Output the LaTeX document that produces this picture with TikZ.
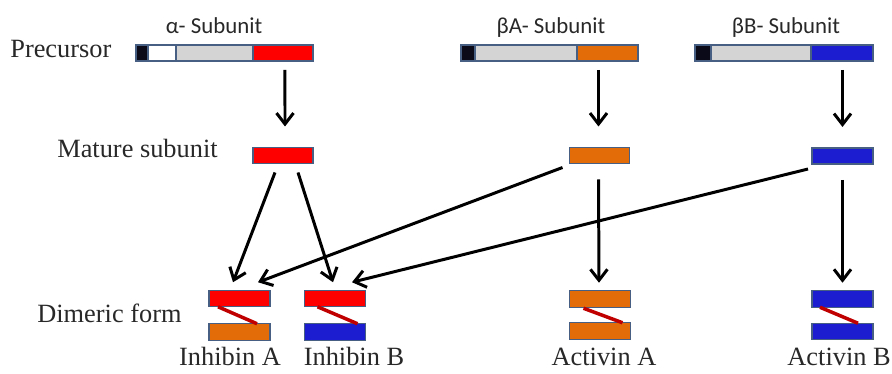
\documentclass[tikz,border=0pt]{standalone}
\usepackage{fontspec}
\setmainfont{Liberation Serif}
\newfontfamily\calib{Carlito}
\usetikzlibrary{calc,arrows.meta,positioning}
\definecolor{subred}{RGB}{255,0,0}
\definecolor{suborange}{RGB}{227,108,9}
\definecolor{subblue}{RGB}{28,28,208}
\definecolor{subgray}{RGB}{212,212,212}
\definecolor{subdark}{RGB}{10,10,25}
\definecolor{barline}{RGB}{70,95,130}
\definecolor{linkred}{RGB}{192,0,0}
\definecolor{txt}{RGB}{40,40,40}

\begin{document}
\begin{tikzpicture}[x=0.02cm, y=-0.02cm,
  seg/.style={draw=barline, line width=0.8pt, inner sep=0pt, outer sep=0pt, minimum height=0.32cm},
  bar/.style={draw=barline, line width=0.8pt, inner sep=0pt, outer sep=0pt, minimum width=1.2cm, minimum height=0.32cm},
  dimer/.style={draw=barline, line width=0.8pt, inner sep=0pt, outer sep=0pt, minimum width=1.22cm, minimum height=0.33cm},
  arr/.style={line width=1.7pt, -{Straight Barb[length=0.22cm, width=0.34cm]}},
  link/.style={linkred, line width=2pt},
  lab/.style={font=\fontsize{15}{18}\selectfont, text=txt, inner sep=0pt, anchor=base},
  sublab/.style={font=\calib\fontsize{13}{16}\selectfont, text=txt, inner sep=0pt, anchor=base}]
\useasboundingbox (0,0) rectangle (892,374);
% precursors
\node[seg, fill=subdark, minimum width=0.24cm, anchor=west] (pa1) at (136,53) {};
\node[seg, fill=white, minimum width=0.56cm, right=0pt of pa1] (pa2) {};
\node[seg, fill=subgray, minimum width=1.54cm, right=0pt of pa2] (pa3) {};
\node[seg, fill=subred, minimum width=1.2cm, right=0pt of pa3] (pa4) {};
\node[seg, fill=subdark, minimum width=0.28cm, anchor=west] (pb1) at (461,53) {};
\node[seg, fill=subgray, minimum width=2.04cm, right=0pt of pb1] (pb2) {};
\node[seg, fill=suborange, minimum width=1.22cm, right=0pt of pb2] (pb3) {};
\node[seg, fill=subdark, minimum width=0.32cm, anchor=west] (pc1) at (695,53) {};
\node[seg, fill=subgray, minimum width=2.0cm, right=0pt of pc1] (pc2) {};
\node[seg, fill=subblue, minimum width=1.24cm, right=0pt of pc2] (pc3) {};
\node[sublab] (ta) at (214,34) {α- Subunit};
\node[sublab] (tba) at (551,34) {βA- Subunit};
\node[sublab] (tbb) at (786,34) {βB- Subunit};
% mature subunits
\node[bar, fill=subred] (matA) at (283,155.5) {};
\node[bar, fill=suborange] (matBA) at (599.5,155.5) {};
\node[bar, fill=subblue, minimum width=1.22cm] (matBB) at (842.5,156) {};
% dimers
\node[dimer, fill=subred] (inhAt) at (239.5,298.5) {};
\node[dimer, fill=suborange] (inhAb) at (239.5,332) {};
\node[dimer, fill=subred] (inhBt) at (335,298.5) {};
\node[dimer, fill=subblue] (inhBb) at (335,332) {};
\node[dimer, fill=suborange] (actAt) at (600,299) {};
\node[dimer, fill=suborange] (actAb) at (600,331) {};
\node[dimer, fill=subblue] (actBt) at (842.5,299) {};
\node[dimer, fill=subblue] (actBb) at (842.5,331.5) {};
\draw[link] ($(inhAt.south west)+(9,0)$) -- ($(inhAb.north east)+(-13,0)$);
\draw[link] ($(inhBt.south west)+(13,0)$) -- ($(inhBb.north east)+(-8,0)$);
\draw[link] ($(actAt.south west)+(14,1)$) -- ($(actAb.north east)+(-8,0)$);
\draw[link] ($(actBt.south west)+(8,0)$) -- ($(actBb.north east)+(-15,0)$);
% arrows
\draw[arr] ($(pa4.south)+(2,9)$) -- ($(matA.north)+(2,-21)$);
\draw[arr] ($(pb3.south -| matBA.north)+(-1,9)$) -- ($(matBA.north)+(-1,-21)$);
\draw[arr] ($(pc3.south -| matBB.north)+(0,9)$) -- ($(matBB.north)+(0,-21)$);
\draw[arr] ($(matA.south)+(-8,9)$) -- ($(inhAt.north)+(-6.5,-8)$);
\draw[arr] ($(matA.south)+(15,9)$) -- ($(inhBt.north)+(-2,-8)$);
\draw[arr] ($(matBA.south west)+(-7,4)$) -- ($(inhAt.north)+(18.5,-8)$);
\draw[arr] ($(matBB.south west)+(-4,5)$) -- ($(inhBt.north)+(17,-8)$);
\draw[arr] ($(matBA.south)+(-1,16)$) -- ($(actAt.north)+(-1,-8)$);
\draw[arr] ($(matBB.south)+(0,16)$) -- ($(actBt.north)+(0,-8)$);
% labels
\node[lab, anchor=base west] (tpre) at (10,58) {Precursor};
\node[lab, anchor=base west] (tmat) at (57,158) {Mature subunit};
\node[lab, anchor=base west] (tdim) at (37,323) {Dimeric form};
\node[lab] (tia) at (230,366) {Inhibin A};
\node[lab] (tib) at (354,366) {Inhibin B};
\node[lab] (taa) at (604,366) {Activin A};
\node[lab, anchor=base east] (tab) at (891,366) {Activin B};
\end{tikzpicture}
\end{document}
